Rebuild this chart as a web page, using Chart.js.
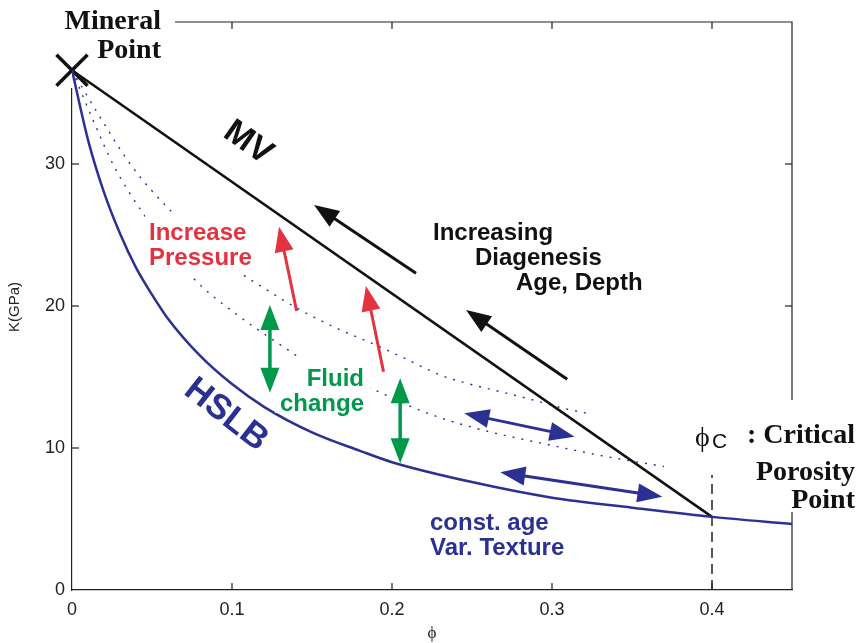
<!DOCTYPE html>
<html>
<head>
<meta charset="utf-8">
<script src="https://cdn.jsdelivr.net/npm/chart.js@4"></script>
<style>
  body { margin: 0; background: #fff; }
  #wrap { width: 858px; height: 643px; }
</style>
</head>
<body>
<div id="wrap"><canvas id="chart" width="858" height="643"></canvas></div>
<script>
// ---- data: porosity phi vs bulk modulus K (GPa) ----
const phiHS = [0, 0.01, 0.02, 0.03, 0.04, 0.05, 0.06, 0.08, 0.10, 0.12, 0.15, 0.18, 0.20, 0.25, 0.30, 0.35, 0.40, 0.45];
const kHS   = [36.6, 31.7, 28.0, 25.1, 22.7, 20.8, 19.1, 16.5, 14.5, 12.9, 11.1, 9.8, 9.0, 7.6, 6.5, 5.8, 5.15, 4.65];

const phiMV = [0, 0.4];
const kMV   = [36.6, 5.15];

// dotted curves between the two bounds
const phiUpper = [0, 0.017, 0.037, 0.060, 0.107, 0.118, 0.143, 0.168, 0.189, 0.210, 0.231, 0.252, 0.272, 0.291, 0.307, 0.324];
const kUpper   = [36.6, 33.4, 29.9, 26.9, 22.2, 21.4, 19.7, 18.3, 17.3, 16.2, 15.1, 14.4, 13.85, 13.3, 12.8, 12.4];
const phiLower = [0, 0.0135, 0.026, 0.044, 0.076, 0.103, 0.1325, 0.142, 0.189, 0.210, 0.231, 0.252, 0.272, 0.295, 0.318, 0.341, 0.370];
const kLower   = [36.6, 33.0, 29.9, 26.6, 21.95, 19.4, 17.1, 16.4, 14.1, 13.0, 12.1, 11.4, 10.85, 10.3, 9.75, 9.25, 8.7];

const mineralPhi = [0];
const mineralK   = [36.6];
const critPhi = [0.4, 0.4];
const critK   = [0, 8.1];

const xTicks = [0, 0.1, 0.2, 0.3, 0.4];
const yTicks = [0, 10, 20, 30];

// annotation arrows, ends in (phi, K)
const arrowsBlack  = [[[0.215, 22.3], [0.1513, 27.11]], [[0.3095, 14.84], [0.2463, 19.72]]];
const arrowsRed    = [[[0.1404, 19.65], [0.1294, 25.58]], [[0.1947, 15.37], [0.1837, 21.41]]];
const arrowsGreen  = [[[0.1237, 20.07], [0.1237, 13.89]], [[0.2051, 14.91], [0.2051, 8.92]]];
const arrowsNavy   = [[[0.2452, 12.44], [0.3141, 10.80]], [[0.2677, 8.29], [0.3690, 6.57]]];

const NAVY = '#2b3192';
const RED = '#e2333f';
const GREEN = '#00994c';
const SANS = '"Liberation Sans", Arial, sans-serif';
const SERIF = '"Liberation Serif", "Times New Roman", serif';

function pts(xs, ys) { return xs.map((x, i) => ({ x: x, y: ys[i] })); }

function seg(ctx, x1, y1, x2, y2) {
  ctx.beginPath(); ctx.moveTo(x1, y1); ctx.lineTo(x2, y2); ctx.stroke();
}

function arrow(ctx, x, y, a, b, color, width, both) {
  const p1 = [x.getPixelForValue(a[0]), y.getPixelForValue(a[1])];
  const p2 = [x.getPixelForValue(b[0]), y.getPixelForValue(b[1])];
  const dx = p2[0] - p1[0], dy = p2[1] - p1[1];
  const len = Math.hypot(dx, dy), ux = dx / len, uy = dy / len;
  const hl = 25, hw = 9.5;
  ctx.strokeStyle = color; ctx.fillStyle = color; ctx.lineWidth = width;
  const s = both ? [p1[0] + ux * (hl - 2), p1[1] + uy * (hl - 2)] : p1;
  seg(ctx, s[0], s[1], p2[0] - ux * (hl - 2), p2[1] - uy * (hl - 2));
  const head = (tx, ty, vx, vy) => {
    ctx.beginPath();
    ctx.moveTo(tx, ty);
    ctx.lineTo(tx - vx * hl - vy * hw, ty - vy * hl + vx * hw);
    ctx.lineTo(tx - vx * hl + vy * hw, ty - vy * hl - vx * hw);
    ctx.closePath(); ctx.fill();
  };
  head(p2[0], p2[1], ux, uy);
  if (both) head(p1[0], p1[1], -ux, -uy);
}

function label(ctx, str, px, py, font, color, align, rot) {
  ctx.save();
  ctx.translate(px, py);
  if (rot) ctx.rotate(rot * Math.PI / 180);
  ctx.font = font; ctx.fillStyle = color;
  ctx.textAlign = align || 'left';
  ctx.textBaseline = rot ? 'middle' : 'alphabetic';
  ctx.fillText(str, 0, 0);
  ctx.restore();
}

const decorations = {
  id: 'decorations',
  beforeDatasetsDraw(chart) {
    const { ctx, chartArea: a, scales: { x, y } } = chart;
    ctx.save();
    ctx.strokeStyle = '#222'; ctx.lineWidth = 1.2;
    // top and right frame
    ctx.beginPath();
    ctx.moveTo(a.left, a.top); ctx.lineTo(a.right, a.top); ctx.lineTo(a.right, a.bottom);
    ctx.stroke();
    // ticks pointing into the plot
    xTicks.forEach(v => {
      if (v === 0) return;
      const p = x.getPixelForValue(v);
      seg(ctx, p, a.bottom, p, a.bottom - 7);
      seg(ctx, p, a.top, p, a.top + 7);
    });
    yTicks.forEach(v => {
      if (v === 0) return;
      const p = y.getPixelForValue(v);
      seg(ctx, a.left, p, a.left + 7, p);
      seg(ctx, a.right, p, a.right - 7, p);
    });
    // white backing for the corner labels
    ctx.fillStyle = '#fff';
    ctx.fillRect(48, 0, 127, 88);
    ctx.fillRect(690, 400, 168, 112);
    ctx.restore();
  },
  afterDatasetsDraw(chart) {
    const { ctx, scales: { x, y } } = chart;
    ctx.save();
    // white backing for the in-plot labels
    ctx.fillStyle = '#fff';
    ctx.fillRect(145, 212, 113, 62);
    ctx.fillRect(302, 356, 68, 34);
    ctx.fillRect(275, 390, 95, 23);

    const bold24 = 'bold 24px ' + SANS;
    label(ctx, 'Mineral', 161, 29, 'bold 28px ' + SERIF, '#111', 'right');
    label(ctx, 'Point', 161, 58, 'bold 28px ' + SERIF, '#111', 'right');
    label(ctx, 'MV', 248, 143, 'bold 34px ' + SANS, '#111', 'center', 35);
    label(ctx, 'HSLB', 226, 415, 'bold 35px ' + SANS, NAVY, 'center', 38);
    label(ctx, 'Increase', 149, 239.5, bold24, RED, 'left');
    label(ctx, 'Pressure', 149, 264.5, bold24, RED, 'left');
    label(ctx, 'Fluid', 364, 386, bold24, GREEN, 'right');
    label(ctx, 'change', 364, 410.5, bold24, GREEN, 'right');
    label(ctx, 'Increasing', 433, 240, bold24, '#111', 'left');
    label(ctx, 'Diagenesis', 475, 265, bold24, '#111', 'left');
    label(ctx, 'Age, Depth', 516, 290, bold24, '#111', 'left');
    label(ctx, 'const. age', 430, 530, bold24, NAVY, 'left');
    label(ctx, 'Var. Texture', 430, 555, bold24, NAVY, 'left');
    label(ctx, '\u03D5', 695, 446, '28px ' + SERIF, '#111', 'left');
    label(ctx, 'C', 712, 448, '21px ' + SANS, '#111', 'left');
    label(ctx, ': Critical', 855, 443, 'bold 28px ' + SERIF, '#111', 'right');
    label(ctx, 'Porosity', 855, 480, 'bold 28px ' + SERIF, '#111', 'right');
    label(ctx, 'Point', 855, 508, 'bold 28px ' + SERIF, '#111', 'right');

    // axis titles
    label(ctx, '\u03D5', 432, 638, '17px ' + SERIF, '#222', 'center');
    label(ctx, 'K(GPa)', 15, 307, '15px ' + SANS, '#222', 'center', -90);

    arrowsBlack.forEach(r => arrow(ctx, x, y, r[0], r[1], '#111', 3, false));
    arrowsRed.forEach(r => arrow(ctx, x, y, r[0], r[1], RED, 3, false));
    arrowsGreen.forEach(r => arrow(ctx, x, y, r[0], r[1], GREEN, 3.5, true));
    arrowsNavy.forEach(r => arrow(ctx, x, y, r[0], r[1], NAVY, 3, true));
    ctx.restore();
  }
};

new Chart(document.getElementById('chart'), {
  type: 'scatter',
  data: {
    datasets: [
      { data: pts(phiHS, kHS), showLine: true, borderColor: NAVY, borderWidth: 2.5, pointRadius: 0, cubicInterpolationMode: 'monotone' },
      { data: pts(phiMV, kMV), showLine: true, borderColor: '#111', borderWidth: 2.5, pointRadius: 0 },
      { data: pts(phiUpper, kUpper), showLine: true, borderColor: NAVY, borderWidth: 1.4, borderDash: [2, 7], pointRadius: 0, cubicInterpolationMode: 'monotone' },
      { data: pts(phiLower, kLower), showLine: true, borderColor: NAVY, borderWidth: 1.4, borderDash: [2, 7], pointRadius: 0, cubicInterpolationMode: 'monotone' },
      { data: pts(critPhi, critK), showLine: true, borderColor: '#222', borderWidth: 1.5, borderDash: [10, 6], pointRadius: 0 },
      { data: pts(mineralPhi, mineralK), pointStyle: 'crossRot', pointRadius: 22, pointBorderWidth: 3.5, pointBorderColor: '#111', clip: false }
    ]
  },
  options: {
    responsive: false,
    animation: false,
    events: [],
    layout: { autoPadding: false, padding: { left: 0, right: 66, top: 22, bottom: 0 } },
    plugins: { legend: { display: false }, tooltip: { enabled: false } },
    scales: {
      x: {
        type: 'linear', min: 0, max: 0.45,
        afterFit: s => { s.height = 53; },
        afterBuildTicks: s => { s.ticks = xTicks.map(v => ({ value: v })); },
        grid: { display: false, drawTicks: false },
        border: { display: true, color: '#222', width: 1.2 },
        ticks: { padding: 9, color: '#222', font: { family: SANS, size: 18 }, callback: v => String(v) }
      },
      y: {
        type: 'linear', min: 0, max: 40,
        afterFit: s => { s.width = 72; },
        afterBuildTicks: s => { s.ticks = yTicks.map(v => ({ value: v })); },
        grid: { display: false, drawTicks: false },
        border: { display: true, color: '#222', width: 1.2 },
        ticks: { padding: 7, color: '#222', font: { family: SANS, size: 18 }, callback: v => String(v) }
      }
    }
  },
  plugins: [decorations]
});
</script>
</body>
</html>
